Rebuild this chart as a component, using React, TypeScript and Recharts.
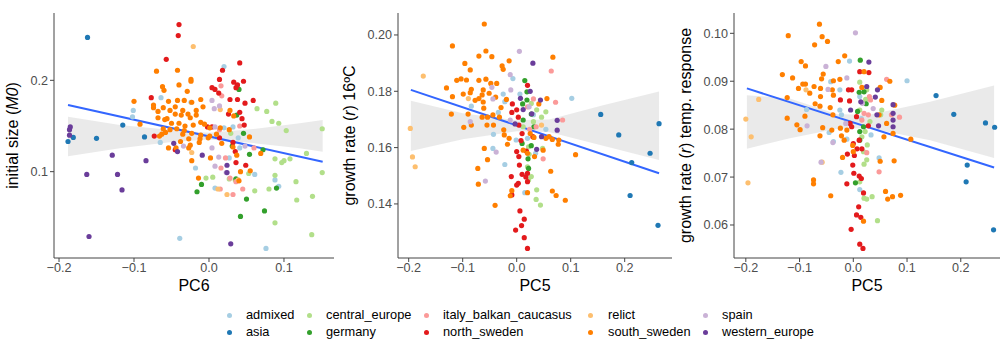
import { ComposedChart, Scatter, Line, Area, XAxis, YAxis } from 'recharts'

type Pt = [number, number]

const groups = ['admixed', 'asia', 'central_europe', 'germany', 'italy_balkan_caucasus', 'north_sweden', 'relict', 'south_sweden', 'spain', 'western_europe']
const colors = ['#A6CEE3', '#1F78B4', '#B2DF8A', '#33A02C', '#FB9A99', '#E31A1C', '#FDBF6F', '#FF7F00', '#CAB2D6', '#6A3D9A']

// panel 1: initial size (M0) vs PC6
const m0Admixed: Pt[] = [[-0.101, 0.167], [-0.102, 0.16], [-0.064, 0.181], [-0.065, 0.132], [-0.039, 0.027], [0.02, 0.215], [0.076, 0.016], [-0.024, 0.176], [-0.018, 0.104], [0.008, 0.082], [0.02, 0.148], [0.039, 0.137], [0.061, 0.097], [0.088, 0.091], [0.093, 0.084], [0.027, 0.115], [0.032, 0.149], [0.041, 0.126]]
const m0Asia: Pt[] = [[-0.162, 0.247], [-0.188, 0.133], [-0.181, 0.1375], [-0.15, 0.1365], [-0.115, 0.151], [-0.086, 0.138]]
const m0Central: Pt[] = [[0.064, 0.169], [0.077, 0.166], [0.089, 0.175], [0.084, 0.155], [0.093, 0.153], [0.103, 0.145], [0.151, 0.147], [0.151, 0.099], [0.138, 0.073], [0.137, 0.031], [0.117, 0.069], [0.116, 0.089], [0.13, 0.12], [0.108, 0.114], [0.097, 0.11], [0.088, 0.114], [0.088, 0.096], [0.08, 0.081], [0.061, 0.079], [0.088, 0.044], [0.053, 0.098], [0.005, 0.094], [-0.004, 0.093], [0.027, 0.092], [0.035, 0.091], [0.029, 0.142], [0.1, 0.112]]
const m0Germany: Pt[] = [[0.04, 0.19], [0.037, 0.162], [0.046, 0.142], [0.054, 0.119], [0.072, 0.124], [-0.01, 0.086], [-0.016, 0.078], [0.036, 0.092], [0.05, 0.07], [0.042, 0.051], [0.074, 0.057], [0.09, 0.082], [0.031, 0.128]]
const m0Italy: Pt[] = [[0.016, 0.194], [0.017, 0.183], [0.041, 0.15], [0.014, 0.146], [0.06, 0.126], [0.022, 0.115], [0.016, 0.104], [0.032, 0.075], [0.045, 0.081], [0.036, 0.089], [0.015, 0.081], [0.028, 0.093]]
const m0North: Pt[] = [[-0.04, 0.261], [-0.041, 0.249], [-0.057, 0.223], [0.041, 0.219], [0.018, 0.211], [0.014, 0.201], [0.004, 0.192], [0.008, 0.19], [0.013, 0.186], [0.033, 0.198], [0.038, 0.195], [0.046, 0.199], [0.036, 0.192], [0.028, 0.179], [0.038, 0.179], [0.048, 0.175], [0.059, 0.178], [0.041, 0.165], [0.044, 0.158], [0.047, 0.151], [0.026, 0.163], [-0.077, 0.181], [-0.073, 0.139], [-0.045, 0.124], [0.004, 0.149], [0.014, 0.137], [0.032, 0.132], [0.035, 0.122], [0.049, 0.107], [0.036, 0.11], [-0.002, 0.149]]
const m0Relict: Pt[] = [[-0.021, 0.237], [0.015, 0.168], [0.012, 0.081], [0.024, 0.075], [0.039, 0.091], [-0.023, 0.121]]
const m0South: Pt[] = [[-0.1, 0.177], [-0.092, 0.152], [-0.07, 0.21], [-0.042, 0.211], [-0.04, 0.195], [-0.062, 0.193], [-0.06, 0.189], [-0.024, 0.201], [-0.024, 0.199], [-0.029, 0.188], [-0.074, 0.173], [-0.074, 0.17], [-0.061, 0.17], [-0.054, 0.177], [-0.042, 0.178], [-0.033, 0.178], [-0.023, 0.176], [-0.011, 0.179], [-0.052, 0.167], [-0.045, 0.171], [-0.035, 0.167], [-0.017, 0.167], [-0.008, 0.171], [-0.068, 0.159], [-0.056, 0.158], [-0.045, 0.163], [-0.037, 0.162], [-0.028, 0.163], [-0.025, 0.159], [-0.017, 0.162], [-0.011, 0.154], [-0.05, 0.153], [-0.04, 0.153], [-0.032, 0.15], [-0.021, 0.151], [-0.006, 0.152], [0.001, 0.148], [-0.061, 0.147], [-0.052, 0.146], [-0.043, 0.147], [-0.033, 0.145], [-0.058, 0.143], [-0.063, 0.141], [-0.066, 0.139], [-0.035, 0.141], [-0.023, 0.142], [-0.011, 0.14], [-0.001, 0.137], [-0.027, 0.136], [-0.012, 0.136], [-0.038, 0.133], [-0.025, 0.129], [-0.013, 0.132], [-0.027, 0.126], [-0.054, 0.126], [-0.044, 0.126], [0.001, 0.139], [0.01, 0.141], [0.015, 0.148], [0.017, 0.131], [0.028, 0.167], [0.033, 0.161], [0.027, 0.146], [0.032, 0.127], [0.054, 0.138], [0.037, 0.118], [0.042, 0.1], [0.055, 0.101], [0.069, 0.12], [-0.014, 0.093], [0.04, 0.09], [0.002, 0.115], [-0.023, 0.112], [-0.068, 0.166], [-0.059, 0.157]]
const m0Spain: Pt[] = [[0.004, 0.178], [0.007, 0.169], [0.014, 0.172], [0.008, 0.149], [0.004, 0.126], [0.013, 0.116], [0.023, 0.099], [0.048, 0.128], [-0.034, 0.128], [0.008, 0.106]]
const m0Western: Pt[] = [[-0.185, 0.149], [-0.186, 0.146], [-0.186, 0.14], [-0.129, 0.118], [-0.163, 0.097], [-0.122, 0.097], [-0.116, 0.08], [-0.084, 0.112], [-0.16, 0.029], [0.029, 0.021], [-0.047, 0.131], [-0.042, 0.122], [-0.009, 0.118], [0.024, 0.107], [0.024, 0.099]]

const m0BandX = [-0.188, -0.119, -0.05, 0.0, 0.055, 0.121, 0.1516]
const m0BandLo = [0.117, 0.1255, 0.1325, 0.1353, 0.1317, 0.1255, 0.1218]
const m0BandHi = [0.16, 0.151, 0.1455, 0.1427, 0.1463, 0.1529, 0.1565]
const m0FitX = [-0.188, 0.1516]
const m0FitY = [0.173, 0.1109]

// panel 2: growth rate 16ºC vs PC5
const r16Admixed: Pt[] = [[-0.007, 0.1845], [-0.084, 0.1747], [-0.025, 0.179], [-0.022, 0.1763], [-0.043, 0.1647], [-0.044, 0.1597], [-0.022, 0.154], [0.015, 0.144], [0.054, 0.1665], [0.102, 0.1775], [0.006, 0.179], [0.031, 0.1717], [0.02, 0.1633], [0.035, 0.158], [-0.034, 0.1725], [-0.001, 0.1627]]
const r16Asia: Pt[] = [[0.1556, 0.1718], [0.189, 0.1645], [0.247, 0.158], [0.213, 0.1547], [0.2636, 0.1685], [0.21, 0.143], [0.2617, 0.1324]]
const r16Central: Pt[] = [[0.022, 0.1485], [0.037, 0.145], [0.036, 0.1416], [0.044, 0.1396], [0.027, 0.1497], [0.012, 0.1674], [0.054, 0.1727], [0.027, 0.1757], [0.037, 0.1734], [0.022, 0.1603], [0.023, 0.1576], [0.02, 0.1532], [0.048, 0.1597], [0.031, 0.1692], [0.046, 0.1708]]
const r16Germany: Pt[] = [[0.015, 0.1838], [0.019, 0.1798], [0.011, 0.1755], [0.019, 0.1769], [0.027, 0.1719], [0.012, 0.1698], [0.032, 0.1674], [0.01, 0.1615], [0.021, 0.156], [0.022, 0.1526], [0.027, 0.1607]]
const r16Italy: Pt[] = [[0.064, 0.1872], [0.031, 0.1773], [0.072, 0.1761], [0.085, 0.1698], [0.049, 0.156], [0.02, 0.1745], [0.024, 0.1665], [0.036, 0.1674]]
const r16North: Pt[] = [[0.02, 0.1821], [-0.008, 0.1755], [0.0, 0.1734], [0.003, 0.1708], [-0.009, 0.1725], [0.004, 0.168], [0.01, 0.165], [0.008, 0.1625], [0.018, 0.1588], [0.0, 0.1586], [0.004, 0.1568], [0.005, 0.1538], [0.01, 0.1505], [0.017, 0.1496], [-0.01, 0.1497], [0.003, 0.1473], [-0.009, 0.1432], [0.0, 0.1467], [0.02, 0.1509], [0.02, 0.1479], [0.006, 0.1375], [0.014, 0.1346], [0.009, 0.1323], [-0.002, 0.1307], [0.014, 0.128], [0.02, 0.1242], [0.03, 0.1639]]
const r16Relict: Pt[] = [[-0.197, 0.1668], [-0.193, 0.1567], [-0.188, 0.1532], [-0.173, 0.1854], [-0.0895, 0.1774], [0.046, 0.168]]
const r16South: Pt[] = [[-0.06, 0.2039], [-0.119, 0.1961], [-0.057, 0.1943], [-0.07, 0.1925], [-0.046, 0.1923], [-0.014, 0.1908], [-0.096, 0.1899], [0.067, 0.1921], [-0.086, 0.1876], [-0.027, 0.189], [-0.025, 0.1878], [-0.111, 0.1839], [-0.103, 0.1844], [-0.093, 0.184], [-0.07, 0.1839], [-0.057, 0.1843], [-0.048, 0.1828], [-0.037, 0.1828], [-0.13, 0.1812], [-0.119, 0.1781], [-0.099, 0.179], [-0.084, 0.1807], [-0.086, 0.1795], [-0.062, 0.1805], [-0.077, 0.1768], [-0.07, 0.1774], [-0.064, 0.1787], [-0.051, 0.1793], [-0.062, 0.1762], [-0.061, 0.174], [-0.039, 0.1779], [-0.019, 0.1771], [-0.029, 0.1742], [-0.121, 0.1719], [-0.09, 0.1719], [-0.098, 0.1672], [-0.084, 0.168], [-0.064, 0.1708], [-0.054, 0.1708], [-0.044, 0.1716], [-0.032, 0.1708], [-0.055, 0.168], [-0.043, 0.168], [-0.024, 0.1663], [-0.023, 0.1645], [-0.014, 0.1633], [-0.017, 0.1612], [-0.06, 0.1597], [-0.054, 0.1557], [-0.072, 0.1526], [-0.071, 0.147], [-0.04, 0.1395], [-0.009, 0.1447], [-0.012, 0.1429], [0.02, 0.144], [0.02, 0.158], [0.033, 0.1568], [0.049, 0.1591], [0.056, 0.1774], [0.06, 0.1639], [0.066, 0.1629], [0.078, 0.1627], [0.077, 0.1612], [0.032, 0.1636], [0.041, 0.1755], [0.063, 0.1516], [0.066, 0.1446], [0.073, 0.143], [0.09, 0.1413], [0.109, 0.1575], [0.012, 0.1591], [0.025, 0.165], [0.054, 0.1633]]
const r16Spain: Pt[] = [[0.005, 0.1942], [-0.012, 0.1859], [-0.011, 0.1805], [-0.044, 0.1773], [-0.086, 0.1692], [-0.038, 0.1584], [-0.058, 0.1481], [-0.012, 0.1698], [0.023, 0.1745], [-0.046, 0.1814]]
const r16Western: Pt[] = [[0.03, 0.19], [0.025, 0.18], [0.044, 0.1769], [0.075, 0.1697], [0.075, 0.1662], [0.037, 0.1594], [0.046, 0.1639], [-0.003, 0.1684], [0.007, 0.1775], [0.012, 0.1735], [0.028, 0.172]]

const r16BandX = [-0.196, -0.1, 0.0, 0.06, 0.16, 0.2636]
const r16BandLo = [0.1588, 0.163, 0.1658, 0.1655, 0.1607, 0.1556]
const r16BandHi = [0.1766, 0.1722, 0.1697, 0.17, 0.175, 0.1799]
const r16FitX = [-0.196, 0.2636]
const r16FitY = [0.1805, 0.1509]

// panel 3: growth rate temp. response vs PC5
const rtAdmixed: Pt[] = [[-0.007, 0.0942], [-0.087, 0.0841], [-0.042, 0.0899], [-0.025, 0.0882], [-0.025, 0.084], [-0.022, 0.083], [-0.045, 0.0793], [-0.037, 0.0774], [-0.023, 0.071], [-0.012, 0.0779], [0.015, 0.0822], [0.033, 0.0788], [0.1, 0.0901], [0.048, 0.074], [0.012, 0.0674], [0.012, 0.0868]]
const rtAsia: Pt[] = [[0.154, 0.087], [0.187, 0.0831], [0.246, 0.0813], [0.263, 0.0804], [0.212, 0.0725], [0.21, 0.069], [0.261, 0.059]]
const rtCentral: Pt[] = [[0.012, 0.0898], [0.025, 0.0882], [0.023, 0.0862], [0.012, 0.084], [0.031, 0.0816], [0.053, 0.084], [0.051, 0.083], [0.026, 0.0767], [0.019, 0.0753], [0.02, 0.0727], [0.025, 0.0736], [0.02, 0.0656], [0.025, 0.0654], [0.035, 0.0659], [0.045, 0.0609], [0.012, 0.069], [0.016, 0.0784], [0.022, 0.0795]]
const rtGermany: Pt[] = [[0.013, 0.0944], [0.011, 0.0877], [0.024, 0.0853], [0.008, 0.0837], [0.012, 0.0795], [0.012, 0.0777], [0.004, 0.0688], [0.019, 0.0805], [0.02, 0.0878]]
const rtItaly: Pt[] = [[0.062, 0.0904], [0.03, 0.0868], [0.032, 0.0861], [0.071, 0.083], [0.086, 0.0825], [0.048, 0.0711], [0.016, 0.0819], [0.028, 0.083], [0.025, 0.0751], [0.02, 0.0833]]
const rtNorth: Pt[] = [[0.012, 0.092], [0.029, 0.0918], [-0.009, 0.0882], [-0.003, 0.0882], [-0.024, 0.0861], [-0.007, 0.0859], [0.006, 0.0826], [-0.006, 0.0812], [-0.003, 0.0805], [0.028, 0.0807], [0.011, 0.0777], [0.0, 0.077], [0.007, 0.0759], [0.016, 0.0759], [-0.011, 0.0748], [0.002, 0.0745], [-0.001, 0.0725], [0.001, 0.0708], [0.011, 0.0702], [0.015, 0.0697], [-0.012, 0.0686], [0.019, 0.0667], [0.01, 0.0638], [0.006, 0.0621], [0.014, 0.0616], [-0.004, 0.0591], [0.012, 0.056], [0.018, 0.0551]]
const rtRelict: Pt[] = [[-0.2, 0.0821], [-0.19, 0.0784], [-0.176, 0.0862], [-0.196, 0.0688], [-0.088, 0.0882], [-0.058, 0.0731]]
const rtSouth: Pt[] = [[-0.063, 0.1019], [-0.121, 0.0995], [-0.058, 0.0993], [-0.048, 0.0983], [-0.072, 0.0976], [-0.097, 0.0941], [-0.089, 0.0932], [-0.016, 0.0953], [-0.028, 0.0941], [-0.132, 0.0914], [-0.113, 0.0907], [-0.056, 0.0915], [-0.059, 0.0905], [-0.102, 0.0885], [-0.094, 0.0894], [-0.089, 0.0894], [-0.081, 0.0875], [-0.073, 0.0889], [-0.061, 0.0885], [-0.061, 0.0868], [-0.037, 0.0901], [-0.025, 0.0904], [-0.039, 0.0882], [-0.037, 0.0871], [-0.123, 0.0866], [-0.071, 0.0853], [-0.062, 0.0848], [-0.043, 0.0845], [-0.038, 0.083], [-0.105, 0.0809], [-0.09, 0.0827], [-0.123, 0.0823], [-0.099, 0.0799], [-0.057, 0.0803], [-0.062, 0.0786], [-0.04, 0.0798], [-0.024, 0.0802], [-0.022, 0.0786], [-0.017, 0.0777], [-0.012, 0.0798], [-0.02, 0.0741], [-0.074, 0.0694], [-0.074, 0.0686], [-0.042, 0.0661], [-0.001, 0.0766], [0.0, 0.0753], [0.02, 0.092], [0.016, 0.0887], [0.05, 0.0887], [0.068, 0.09], [0.053, 0.086], [0.048, 0.083], [0.05, 0.0733], [0.062, 0.0812], [0.077, 0.085], [0.074, 0.0791], [0.076, 0.0734], [0.107, 0.0779], [0.06, 0.067], [0.064, 0.0654], [0.073, 0.0659], [0.088, 0.0662], [0.019, 0.0608], [0.057, 0.0784]]
const rtSpain: Pt[] = [[0.004, 0.1001], [-0.051, 0.0931], [-0.086, 0.0807], [-0.012, 0.0907], [-0.047, 0.0883], [-0.038, 0.0772], [-0.06, 0.0731], [0.017, 0.0854], [0.037, 0.0843], [-0.014, 0.0812]]
const rtWestern: Pt[] = [[0.029, 0.094], [0.045, 0.0882], [0.074, 0.0851], [0.074, 0.0833], [0.074, 0.0819], [0.074, 0.0805], [0.041, 0.0867], [0.044, 0.083], [-0.005, 0.084], [0.014, 0.0857], [0.047, 0.0807], [0.025, 0.0889]]

const rtBandX = [-0.198, -0.118, -0.03, 0.03, 0.143, 0.262]
const rtBandLo = [0.0759, 0.0781, 0.0801, 0.0802, 0.0777, 0.074]
const rtBandHi = [0.0871, 0.0864, 0.0831, 0.083, 0.0857, 0.0891]
const rtFitX = [-0.198, 0.262]
const rtFitY = [0.0885, 0.072]

const FONT = '"Liberation Sans", Arial, sans-serif'

function buildTable(bx: number[], lo: number[], hi: number[], fx: number[], fy: number[]) {
  const rows = bx.map((x, i) => ({ x, band: [lo[i], hi[i]], fit: null as number | null }))
  fx.forEach((x, i) => {
    const r = rows.find((d) => Math.abs(d.x - x) < 1e-9)
    if (r) r.fit = fy[i]
    else rows.push({ x, band: null as any, fit: fy[i] })
  })
  return rows.sort((a, b) => a.x - b.x)
}

const fmt = (digits: number) => (v: number) => (v < 0 ? '\u2212' : '') + Math.abs(v).toFixed(digits)

function Dot(color: string) {
  return (props: any) => <circle cx={props.cx} cy={props.cy} r={2.6} fill={color} />
}

function YTitle({ tx, ty, parts }: { tx: number; ty: number; parts: [string, boolean][] }) {
  return (
    <text transform={`translate(${tx},${ty}) rotate(-90)`} textAnchor="middle" fontSize={16} fill="#000" fontFamily={FONT}>
      {parts.map(([t, it], i) => (
        <tspan key={i} fontStyle={it ? 'italic' : 'normal'}>{t}</tspan>
      ))}
    </text>
  )
}

function Panel(props: {
  left: number; width: number; yWidth: number; right: number
  xDomain: [number, number]; yDomain: [number, number]
  xTicks: number[]; yTicks: number[]; yDigits: number
  series: Pt[][]; table: any[]; xTitle: string; yTitle: [string, boolean][]; titleX: number
}) {
  const H = 300
  const top = 13
  const bottom = 258
  const plotLeft = props.yWidth
  const plotRight = props.width - props.right
  const axisStyle = { stroke: '#444', strokeWidth: 1 }
  return (
    <div style={{ position: 'absolute', left: props.left, top: 0 }}>
      <ComposedChart width={props.width} height={H} data={props.table} margin={{ top, right: props.right, bottom: 0, left: 0 }}>
        <XAxis
          type="number" dataKey="x" domain={props.xDomain} ticks={props.xTicks} allowDataOverflow
          height={H - bottom} tickFormatter={fmt(1)} tickSize={4} tickMargin={1}
          axisLine={axisStyle} tickLine={axisStyle}
          tick={{ fill: '#4D4D4D', fontSize: 12.6, fontFamily: FONT }}
          label={() => (
            <text x={(plotLeft + plotRight) / 2} y={291} textAnchor="middle" fontSize={16} fill="#000" fontFamily={FONT}>{props.xTitle}</text>
          )}
        />
        <YAxis
          type="number" dataKey="y" domain={props.yDomain} ticks={props.yTicks} allowDataOverflow
          width={props.yWidth} tickFormatter={fmt(props.yDigits)} tickSize={4} tickMargin={2}
          axisLine={axisStyle} tickLine={axisStyle}
          tick={{ fill: '#4D4D4D', fontSize: 12.6, fontFamily: FONT }}
          label={() => <YTitle tx={props.titleX} ty={(top + bottom) / 2} parts={props.yTitle} />}
        />
        <Area type="linear" dataKey="band" stroke="none" fill="#DCDCDC" fillOpacity={0.6} connectNulls isAnimationActive={false} />
        {props.series.map((pts, i) => (
          <Scatter key={groups[i]} name={groups[i]} data={pts.map(([x, y]) => ({ x, y }))} shape={Dot(colors[i])} isAnimationActive={false} />
        ))}
        <Line type="linear" dataKey="fit" stroke="#3366FF" strokeWidth={2} dot={false} connectNulls isAnimationActive={false} />
      </ComposedChart>
    </div>
  )
}

function Legend() {
  const dotX = [229, 309, 426, 590, 705]
  const textX = [246, 326, 443, 608, 722]
  const rowY = [315, 332]
  return (
    <>
      {groups.map((g, i) => {
        const c = Math.floor(i / 2)
        const r = i % 2
        return (
          <div key={g}>
            <span style={{ position: 'absolute', left: dotX[c] - 2.5, top: rowY[r] - 2.5, width: 5, height: 5, borderRadius: '50%', background: colors[i] }} />
            <span style={{ position: 'absolute', left: textX[c], top: rowY[r] - 9, lineHeight: '18px', fontFamily: FONT, fontSize: 12.8, color: '#000', whiteSpace: 'nowrap' }}>{g}</span>
          </div>
        )
      })}
    </>
  )
}

export default function App() {
  return (
    <div style={{ position: 'absolute', left: 0, top: 0, width: 1003, height: 339, background: '#fff', overflow: 'hidden' }}>
      <Panel
        left={0} width={340} yWidth={54} right={6} titleX={18}
        xDomain={[-0.2067, 0.1667]} yDomain={[0.00548, 0.2737]}
        xTicks={[-0.2, -0.1, 0, 0.1]} yTicks={[0.1, 0.2]} yDigits={1}
        series={[m0Admixed, m0Asia, m0Central, m0Germany, m0Italy, m0North, m0Relict, m0South, m0Spain, m0Western]}
        table={buildTable(m0BandX, m0BandLo, m0BandHi, m0FitX, m0FitY)}
        xTitle="PC6" yTitle={[['initial size (', false], ['M0', true], [')', false]]}
      />
      <Panel
        left={336} width={338} yWidth={62} right={2} titleX={19}
        xDomain={[-0.2198, 0.2876]} yDomain={[0.1208, 0.2078]}
        xTicks={[-0.2, -0.1, 0, 0.1, 0.2]} yTicks={[0.14, 0.16, 0.18, 0.2]} yDigits={2}
        series={[r16Admixed, r16Asia, r16Central, r16Germany, r16Italy, r16North, r16Relict, r16South, r16Spain, r16Western]}
        table={buildTable(r16BandX, r16BandLo, r16BandHi, r16FitX, r16FitY)}
        xTitle="PC5" yTitle={[['growth rate (', false], ['r', true], [') 16ºC', false]]}
      />
      <Panel
        left={672} width={331} yWidth={62} right={3} titleX={19}
        xDomain={[-0.222, 0.273]} yDomain={[0.05311, 0.10424]}
        xTicks={[-0.2, -0.1, 0, 0.1, 0.2]} yTicks={[0.06, 0.07, 0.08, 0.09, 0.1]} yDigits={2}
        series={[rtAdmixed, rtAsia, rtCentral, rtGermany, rtItaly, rtNorth, rtRelict, rtSouth, rtSpain, rtWestern]}
        table={buildTable(rtBandX, rtBandLo, rtBandHi, rtFitX, rtFitY)}
        xTitle="PC5" yTitle={[['growth rate (', false], ['r', true], [') temp. response', false]]}
      />
      <Legend />
    </div>
  )
}
